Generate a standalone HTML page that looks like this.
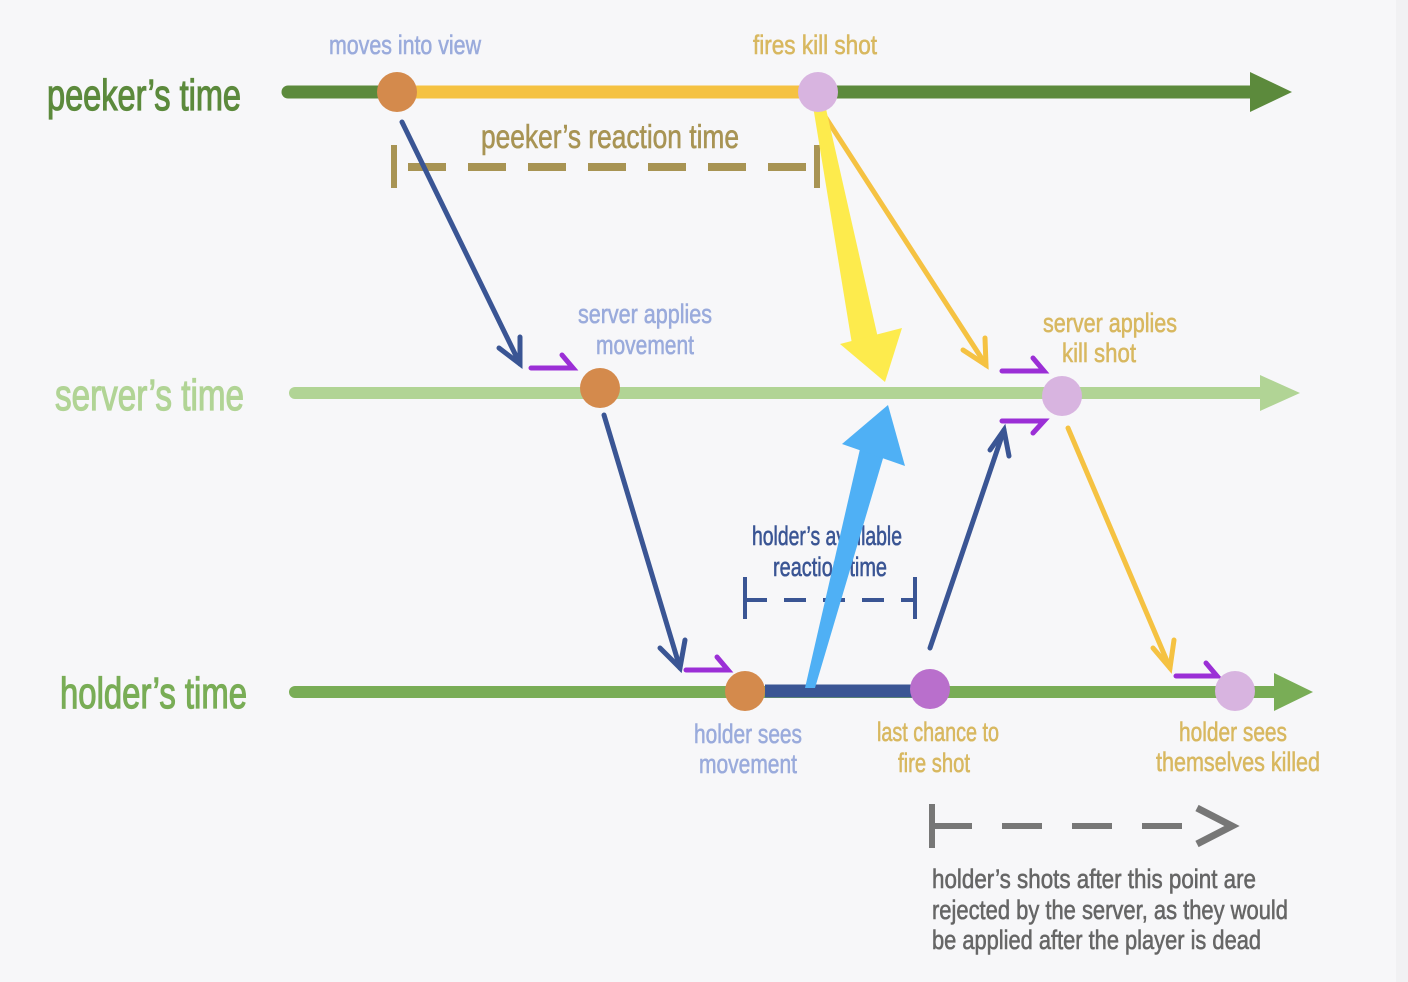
<!DOCTYPE html>
<html><head><meta charset="utf-8"><style>
html,body{margin:0;padding:0;background:#f7f7f9;}
svg{display:block;}
text{font-family:"Liberation Sans Narrow","Liberation Sans",sans-serif;stroke-width:0.6px;}
</style></head><body>
<svg width="1408" height="982" viewBox="0 0 1408 982" xmlns="http://www.w3.org/2000/svg">
<rect width="1408" height="982" fill="#f7f7f9"/>
<rect x="1396" y="0" width="12" height="982" fill="#f1f1f3"/>

<line x1="288" y1="92" x2="1255" y2="92" stroke="#5c8a3c" stroke-width="13" stroke-linecap="round"/>
<polygon points="1250,72 1292,92 1250,112" fill="#5c8a3c"/>
<line x1="397" y1="92" x2="818" y2="92" stroke="#f5c242" stroke-width="13"/>

<line x1="295" y1="393" x2="1265" y2="393" stroke="#b1d495" stroke-width="12" stroke-linecap="round"/>
<polygon points="1260,375 1300,393 1260,411" fill="#b1d495"/>

<line x1="295" y1="692" x2="1278" y2="692" stroke="#79ad56" stroke-width="12" stroke-linecap="round"/>
<polygon points="1274,673 1313,692 1274,711" fill="#79ad56"/>
<line x1="765" y1="691" x2="912" y2="691" stroke="#3a5594" stroke-width="13"/>

<g stroke="#a89454" stroke-width="6" fill="none">
<line x1="394" y1="145" x2="394" y2="188"/>
<line x1="817" y1="145" x2="817" y2="188"/>
<line x1="408" y1="167" x2="812" y2="167" stroke-width="8" stroke-dasharray="38,22"/>
</g>

<g stroke="#3a5594" stroke-width="4" fill="none">
<line x1="745" y1="577" x2="745" y2="619"/>
<line x1="915" y1="577" x2="915" y2="619"/>
<line x1="745" y1="600" x2="915" y2="600" stroke-dasharray="22,17"/>
</g>

<g stroke="#777" stroke-width="6" fill="none">
<line x1="932" y1="804" x2="932" y2="848"/>
<line x1="932" y1="826" x2="1190" y2="826" stroke-dasharray="40,30"/>
<polyline points="1197,808 1232,826 1197,844" stroke-width="7"/>
</g>

<g stroke="#3a5594" stroke-width="5" fill="none" stroke-linecap="round">
<line x1="402" y1="122" x2="520" y2="364"/>
<polyline points="499,348 520,364 520,337"/>
<line x1="604" y1="415" x2="680" y2="668"/>
<polyline points="660,648 680,668 685,640"/>
<line x1="930" y1="648" x2="1004" y2="430"/>
<polyline points="990,450 1004,430 1009,456"/>
</g>

<g stroke="#f5c242" stroke-width="5" fill="none" stroke-linecap="round">
<line x1="826" y1="118" x2="986" y2="365"/>
<polyline points="963,350 986,365 985,338"/>
<line x1="1068" y1="428" x2="1170" y2="668"/>
<polyline points="1153,648 1170,668 1174,640"/>
</g>

<polygon points="812,100 824,100 878,338 852,344" fill="#fdeb4d"/>
<polygon points="840,344 902,328 885,382" fill="#fdeb4d"/>

<g stroke="#9b2fd6" stroke-width="5" fill="none" stroke-linecap="round">
<polyline points="531,368 573,368 562,355"/>
<polyline points="686,670 728,670 717,657"/>
<polyline points="1002,371 1044,371 1033,358"/>
<polyline points="1002,421 1044,421 1033,433"/>
<polyline points="1176,676 1217,676 1206,663"/>
</g>

<circle cx="397" cy="92" r="20" fill="#d48a4c"/>
<circle cx="818" cy="92" r="20" fill="#d8b4e0"/>
<circle cx="600" cy="388" r="20" fill="#d48a4c"/>
<circle cx="1062" cy="396" r="20" fill="#d8b4e0"/>
<circle cx="745" cy="691" r="20" fill="#d48a4c"/>
<circle cx="930" cy="689" r="20" fill="#b96fcc"/>
<circle cx="1235" cy="691" r="20" fill="#d8b4e0"/>

<text x="47" y="110" font-size="44" fill="#5c8a3c" stroke="#5c8a3c" style="stroke-width:1.2px" textLength="194" lengthAdjust="spacingAndGlyphs">peeker’s time</text>
<text x="55" y="410" font-size="44" fill="#b1d495" stroke="#b1d495" style="stroke-width:1.2px" textLength="189" lengthAdjust="spacingAndGlyphs">server’s time</text>
<text x="60" y="708" font-size="44" fill="#79ad56" stroke="#79ad56" style="stroke-width:1.2px" textLength="187" lengthAdjust="spacingAndGlyphs">holder’s time</text>

<g font-size="27" text-anchor="middle">
<text x="405" y="54" fill="#9aabdc" stroke="#9aabdc" textLength="152" lengthAdjust="spacingAndGlyphs">moves into view</text>
<text x="815" y="54" fill="#d8b860" stroke="#d8b860" textLength="124" lengthAdjust="spacingAndGlyphs">fires kill shot</text>
<text x="610" y="148" fill="#a89454" stroke="#a89454" font-size="33" textLength="258" lengthAdjust="spacingAndGlyphs">peeker’s reaction time</text>
<text x="645" y="323" fill="#9aabdc" stroke="#9aabdc" textLength="134" lengthAdjust="spacingAndGlyphs">server applies</text>
<text x="645" y="354" fill="#9aabdc" stroke="#9aabdc" textLength="98" lengthAdjust="spacingAndGlyphs">movement</text>
<text x="1110" y="332" fill="#d8b860" stroke="#d8b860" textLength="134" lengthAdjust="spacingAndGlyphs">server applies</text>
<text x="1099" y="362" fill="#d8b860" stroke="#d8b860" textLength="74" lengthAdjust="spacingAndGlyphs">kill shot</text>
<text x="827" y="545" fill="#3a5594" stroke="#3a5594" textLength="150" lengthAdjust="spacingAndGlyphs">holder’s available</text>
<text x="830" y="576" fill="#3a5594" stroke="#3a5594" textLength="114" lengthAdjust="spacingAndGlyphs">reaction time</text>
<text x="748" y="743" fill="#9aabdc" stroke="#9aabdc" textLength="108" lengthAdjust="spacingAndGlyphs">holder sees</text>
<text x="748" y="773" fill="#9aabdc" stroke="#9aabdc" textLength="98" lengthAdjust="spacingAndGlyphs">movement</text>
<text x="938" y="741" fill="#d8b860" stroke="#d8b860" textLength="122" lengthAdjust="spacingAndGlyphs">last chance to</text>
<text x="934" y="772" fill="#d8b860" stroke="#d8b860" textLength="72" lengthAdjust="spacingAndGlyphs">fire shot</text>
<text x="1233" y="741" fill="#d8b860" stroke="#d8b860" textLength="108" lengthAdjust="spacingAndGlyphs">holder sees</text>
<text x="1238" y="771" fill="#d8b860" stroke="#d8b860" textLength="164" lengthAdjust="spacingAndGlyphs">themselves killed</text>
</g>
<g font-size="27" fill="#666" stroke="#666">
<text x="932" y="888" textLength="324" lengthAdjust="spacingAndGlyphs">holder’s shots after this point are</text>
<text x="932" y="919" textLength="356" lengthAdjust="spacingAndGlyphs">rejected by the server, as they would</text>
<text x="932" y="949" textLength="329" lengthAdjust="spacingAndGlyphs">be applied after the player is dead</text>
</g>

<polygon points="805,688 815,688 884,455 860,449" fill="#4fb0f5"/>
<polygon points="842,444 905,466 888,405" fill="#4fb0f5"/>
</svg>
</body></html>
